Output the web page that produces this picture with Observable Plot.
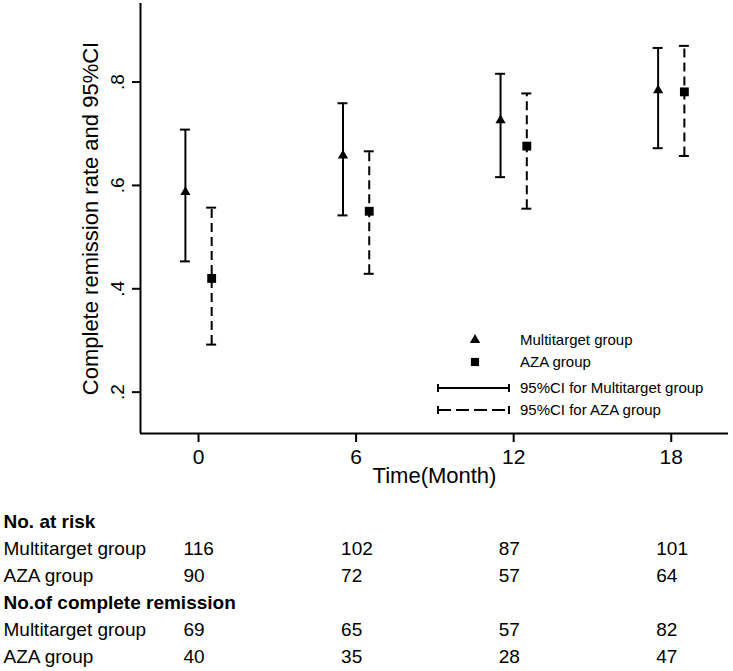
<!DOCTYPE html>
<html><head><meta charset="utf-8">
<script src="https://cdn.jsdelivr.net/npm/d3@7"></script>
<script src="https://cdn.jsdelivr.net/npm/@observablehq/plot@0.6"></script>
<style>
body{margin:0;background:#fff;}
#wrap{position:relative;width:733px;height:671px;background:#fff;}
#wrap svg{display:block;}
#legend{position:absolute;left:0;top:0;pointer-events:none;}
</style></head><body><div id="wrap"></div>
<script>
// ---- data ----
const months = [0, 6, 12, 18];
const groups = ["Multitarget group", "AZA group"];
const multiRate = [0.587, 0.658, 0.726, 0.784];
const multiLow  = [0.453, 0.542, 0.616, 0.672];
const multiHigh = [0.708, 0.759, 0.816, 0.866];
const azaRate = [0.420, 0.550, 0.676, 0.781];
const azaLow  = [0.292, 0.429, 0.555, 0.657];
const azaHigh = [0.557, 0.666, 0.778, 0.870];
const yTicks = [0.2, 0.4, 0.6, 0.8];
const atRiskMulti = [116, 102, 87, 101];
const atRiskAza = [90, 72, 57, 64];
const remissionMulti = [69, 65, 57, 82];
const remissionAza = [40, 35, 28, 47];
const yLabel = "Complete remission rate and 95%CI";
const xLabel = "Time(Month)";
const legendLabels = ["Multitarget group", "AZA group", "95%CI for Multitarget group", "95%CI for AZA group"];
const tableHeaders = ["No. at risk", "No.of complete remission"];

// ---- build ----
const FONT = '"Liberation Sans", Arial, sans-serif';
const X_DOMAIN = [-2.21, 20.18];
const Y_DOMAIN = [0.12, 0.952];
const offset = {"Multitarget group": -0.5, "AZA group": 0.5};
const points = months.flatMap((m, i) => [
  {month: m, group: groups[0], rate: multiRate[i], lo: multiLow[i], hi: multiHigh[i]},
  {month: m, group: groups[1], rate: azaRate[i], lo: azaLow[i], hi: azaHigh[i]}
]);
const multiPts = points.filter(d => d.group === groups[0]);
const azaPts = points.filter(d => d.group === groups[1]);
const xPos = d => d.month + offset[d.group];
const CAP = 0.19;

const chart = Plot.plot({
  width: 733, height: 500,
  marginLeft: 140, marginRight: 5, marginTop: 3, marginBottom: 67,
  style: {fontFamily: FONT, background: "white", color: "black"},
  x: {domain: X_DOMAIN},
  y: {domain: Y_DOMAIN},
  marks: [
    Plot.ruleX([X_DOMAIN[0]], {strokeWidth: 2}),
    Plot.ruleY([Y_DOMAIN[0]], {strokeWidth: 2}),
    Plot.axisX({ticks: months, tickSize: 9, tickPadding: 7, fontSize: 21, strokeWidth: 2, label: null, tickFormat: d => String(d)}),
    Plot.axisY({ticks: yTicks, tickSize: 8, strokeWidth: 2, label: null, tickFormat: () => ""}),
    Plot.text(yTicks, {x: X_DOMAIN[0], y: d => d, text: d => d.toFixed(1).replace(/^0/, ""), rotate: -90, dx: -23, fontSize: 19}),
    Plot.text([yLabel], {text: d => d, frameAnchor: "left", textAnchor: "middle", dx: -50, rotate: -90, fontSize: 22}),
    Plot.text([xLabel], {text: d => d, frameAnchor: "bottom", textAnchor: "middle", dy: 49, fontSize: 22}),
    Plot.ruleX(multiPts, {x: xPos, y1: "lo", y2: "hi", strokeWidth: 2}),
    Plot.ruleX(azaPts, {x: xPos, y1: "lo", y2: "hi", strokeWidth: 2, strokeDasharray: "9,5"}),
    Plot.ruleY(points, {y: "hi", x1: d => xPos(d) - CAP, x2: d => xPos(d) + CAP, strokeWidth: 2}),
    Plot.ruleY(points, {y: "lo", x1: d => xPos(d) - CAP, x2: d => xPos(d) + CAP, strokeWidth: 2}),
    Plot.dot(multiPts, {x: xPos, y: "rate", symbol: "triangle", r: 3.8, fill: "black", stroke: "none"}),
    Plot.dot(azaPts, {x: xPos, y: "rate", symbol: "square", r: 5, fill: "black", stroke: "none"})
  ]
});

// ---- risk table ----
const rowKeys = ["h1", "r1", "r2", "h2", "r3", "r4"];
const headerRows = [{key: "h1", label: tableHeaders[0]}, {key: "h2", label: tableHeaders[1]}];
const groupRows = [
  {key: "r1", label: groups[0], values: atRiskMulti},
  {key: "r2", label: groups[1], values: atRiskAza},
  {key: "r3", label: groups[0], values: remissionMulti},
  {key: "r4", label: groups[1], values: remissionAza}
];
const tableNumbers = groupRows.flatMap(r => r.values.map((v, i) => ({key: r.key, month: months[i], value: v})));

const table = Plot.plot({
  width: 733, height: 171,
  marginLeft: 0, marginRight: 0, marginTop: 0, marginBottom: 0,
  style: {fontFamily: FONT, background: "white", color: "black"},
  x: {domain: X_DOMAIN, range: [140, 728], axis: null},
  y: {type: "point", domain: rowKeys, range: [19, 157], padding: 0, axis: null},
  marks: [
    Plot.text(headerRows, {y: "key", text: "label", frameAnchor: "left", dx: 3, textAnchor: "start", fontSize: 19, fontWeight: "bold"}),
    Plot.text(groupRows, {y: "key", text: "label", frameAnchor: "left", dx: 3, textAnchor: "start", fontSize: 19}),
    Plot.text(tableNumbers, {x: "month", y: "key", text: d => String(d.value), textAnchor: "start", dx: -15, fontSize: 19})
  ]
});

const wrap = document.getElementById("wrap");
wrap.appendChild(chart);
wrap.appendChild(table);

// ---- legend overlay ----
const lg = d3.select(wrap).append("svg").attr("id", "legend").attr("width", 733).attr("height", 500)
  .style("font-family", FONT);
const symX = 475, lineX1 = 438, lineX2 = 509, textX = 520;
const rowsY = [340, 362, 388, 410];
lg.append("path").attr("d", d3.symbol(d3.symbolTriangle, 3.8 * 3.8 * Math.PI)()).attr("transform", `translate(${symX},${rowsY[0]})`).attr("fill", "black");
lg.append("path").attr("d", d3.symbol(d3.symbolSquare, 4.6 * 4.6 * Math.PI)()).attr("transform", `translate(${symX},${rowsY[1]})`).attr("fill", "black");
[[rowsY[2], null], [rowsY[3], "13,5"]].forEach(([y, dash]) => {
  const l = lg.append("line").attr("x1", lineX1).attr("x2", lineX2).attr("y1", y).attr("y2", y).attr("stroke", "black").attr("stroke-width", 2);
  if (dash) l.attr("stroke-dasharray", dash);
  [lineX1, lineX2].forEach(x => lg.append("line").attr("x1", x).attr("x2", x).attr("y1", y - 4).attr("y2", y + 4).attr("stroke", "black").attr("stroke-width", 2));
});
legendLabels.forEach((t, i) => {
  lg.append("text").attr("x", textX).attr("y", rowsY[i]).attr("dy", "0.35em").attr("font-size", 15).attr("fill", "black").text(t);
});
</script></body></html>
